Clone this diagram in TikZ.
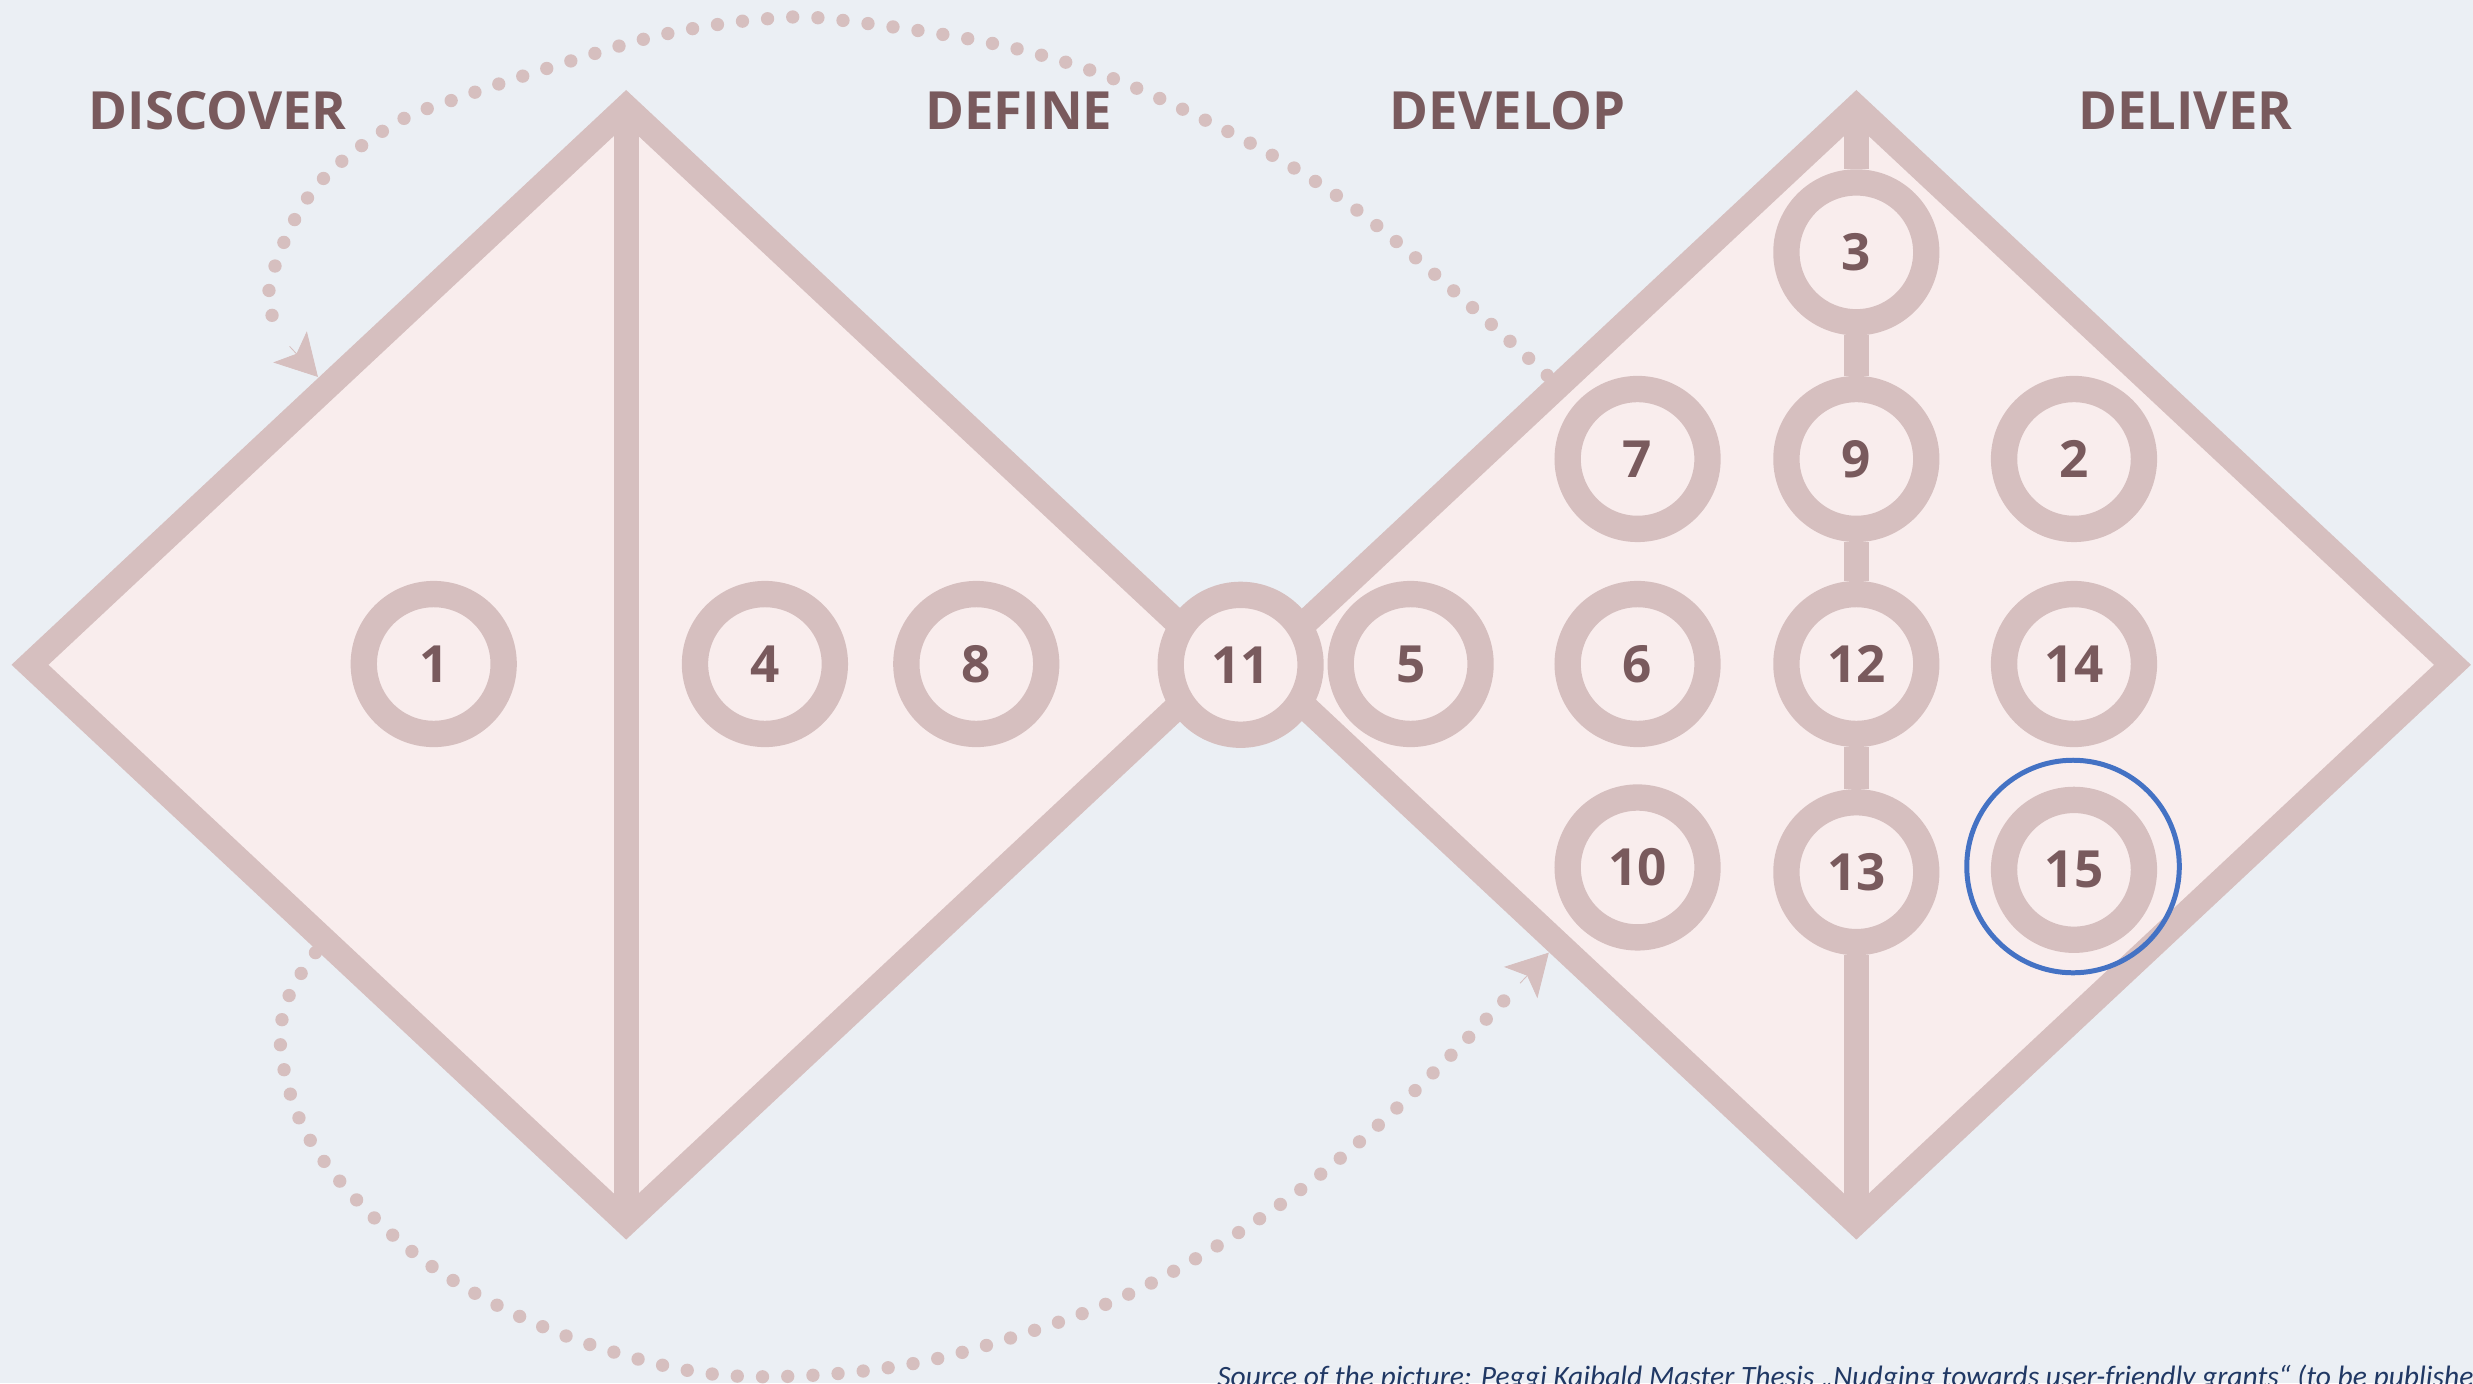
\documentclass[tikz,border=0pt]{standalone}
\usepackage{fontspec}
\setmainfont{Open Sans}
\newfontfamily\capfont{Carlito}
\usetikzlibrary{arrows.meta}
\definecolor{bgc}{HTML}{EBEFF4}
\definecolor{pinkfill}{HTML}{F9EDED}
\definecolor{ringc}{HTML}{D6BFBF}
\definecolor{txtc}{HTML}{795A5D}
\definecolor{hlc}{HTML}{4472C4}
\definecolor{capc}{HTML}{203864}
\tikzset{
  dia/.style={draw=ringc, fill=pinkfill, line width=9.1pt, line join=miter},
  axis/.style={draw=ringc, line width=9.1pt},
  ring/.style={circle, draw=ringc, fill=pinkfill, line width=9.5pt, minimum size=1.774cm, inner sep=0pt,
    font=\bfseries\fontsize{18.5}{20}\selectfont, text=txtc},
  phase/.style={anchor=base, inner sep=0pt, font=\bfseries\fontsize{19}{21}\selectfont, text=txtc},
  dotsty/.style={draw=ringc, line width=4.8pt, line cap=round, dash pattern=on 0pt off 9.1pt},
  tipsty/.style={draw=ringc, line width=0.3pt, -{Stealth[length=14.8pt, width=16.5pt, inset=3.4pt, fill=ringc]}},
  hilite/.style={circle, draw=hlc, line width=1.8pt, minimum size=2.696cm, inner sep=0pt},
  caption/.style={anchor=base west, inner sep=0pt, font=\capfont\itshape\fontsize{10.65}{12}\selectfont, text=capc}
}
\begin{document}
\begin{tikzpicture}[x=0.02cm, y=-0.02cm]
\useasboundingbox (0,0) rectangle (1568,877);
\fill[bgc] (0,0) rectangle (1568,877);

% diamonds
\coordinate (lT) at (397,68);
\coordinate (lB) at (397,775);
\coordinate (lL) at (19,421.5);
\coordinate (lR) at (775,421.5);
\coordinate (rT) at (1177,68);
\coordinate (rB) at (1177,775);
\coordinate (rL) at (799,421.5);
\coordinate (rR) at (1555,421.5);
\draw[dia] (lL) -- (lT) -- (lR) -- (lB) -- cycle;
\draw[dia] (rL) -- (rT) -- (rR) -- (rB) -- cycle;
\draw[axis] (lT) -- (lB);

% circles
\node[ring] (n1) at (275,421) {1};
\node[ring] (n4) at (485,421) {4};
\node[ring] (n8) at (619,421) {8};
\node[ring] (n11) at (786.6,421.5) {11};
\node[ring] (n5) at (894.4,421) {5};
\node[ring] (n3) at (1177,160) {3};
\node[ring] (n7) at (1038.3,291) {7};
\node[ring] (n9) at (1177,291) {9};
\node[ring] (n2) at (1315,291) {2};
\node[ring] (n6) at (1038.3,421) {6};
\node[ring] (n12) at (1177,421) {12};
\node[ring] (n14) at (1315,421) {14};
\node[ring] (n10) at (1038.3,550) {10};
\node[ring] (n13) at (1177,553) {13};
\node[ring] (n15) at (1315,551.5) {15};

% spine of the right diamond
\draw[axis] (rT) -- (n3) (n3) -- (n9) (n9) -- (n12) (n12) -- (n13) (n13) -- (rB);

% highlight
\node[hilite] (hl) at (1314.4,549.4) {};

% phase labels
\node[phase] (discover) at (138,82) {DISCOVER};
\node[phase] (define) at (646,82) {DEFINE};
\node[phase] (develop) at (956,82) {DEVELOP};
\node[phase] (deliver) at (1385.6,82) {DELIVER};

% top dotted arrow
\coordinate (tStart) at (981,238);
\coordinate (tTip) at (201.6,239);
\coordinate (tBase) at (183.6,219.6);
\draw[dotsty] plot[smooth, tension=0.6] coordinates {(tStart) (856,130) (743,66) (649,32) (535,13) (485,12) (420,22) (356,40.5) (294,61) (247.5,80) (197.5,122) (171,181) (178.5,214)};
\draw[tipsty] (tBase) -- (tTip);

% bottom dotted arrow
\coordinate (bStart) at (200,604);
\coordinate (bTip) at (982,604);
\coordinate (bBase) at (963.8,623.4);
\draw[dotsty] plot[smooth, tension=0.6] coordinates {(bStart) (183,632) (178,665) (191,712) (219,753) (267,798) (324,832) (385,856) (450,871) (515,872) (582,864) (645,847) (708,824) (765,794) (821,757) (871,716) (919,670) (954,634)};
\draw[tipsty] (bBase) -- (bTip);

% caption
\node[caption] (cap) at (771.5,879) {Source of the picture: Peggi Kaibald Master Thesis „Nudging towards user-friendly grants“ (to be published)};
\end{tikzpicture}
\end{document}
